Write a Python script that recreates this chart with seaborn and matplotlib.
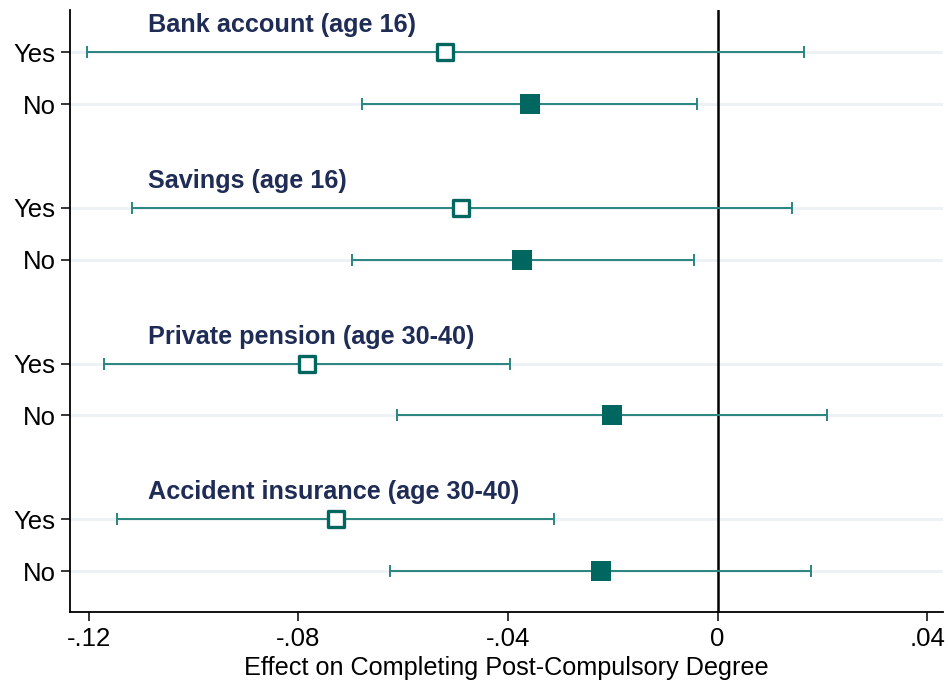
import matplotlib
matplotlib.use("Agg")
import matplotlib.pyplot as plt
import seaborn as sns
import pandas as pd

# Financial-literacy outcome groups and their subgroup rows
groups = ["Bank account (age 16)", "Savings (age 16)",
          "Private pension (age 30-40)", "Accident insurance (age 30-40)"]
subgroups = ["Yes", "No"]

# Point estimates and 95% confidence bounds (Yes, No per group)
estimate = [-0.0520, -0.0359, -0.0489, -0.0373, -0.0784, -0.0201, -0.0729, -0.0223]
ci_low = [-0.1204, -0.0679, -0.1118, -0.0698, -0.1172, -0.0612, -0.1147, -0.0625]
ci_high = [0.0165, -0.0039, 0.0141, -0.0046, -0.0396, 0.0209, -0.0312, 0.0178]

x_ticks = [-0.12, -0.08, -0.04, 0, 0.04]
x_tick_labels = ["-.12", "-.08", "-.04", "0", ".04"]

# Row layout: each group takes three rows (label row, Yes, No)
rows = []
for gi, g in enumerate(groups):
    for si, s in enumerate(subgroups):
        rows.append({"group": g, "sub": s, "row": gi * 3 + 1 + si})
df = pd.DataFrame(rows)
df["est"] = estimate
df["lo"] = ci_low
df["hi"] = ci_high

teal = "#006660"
line_teal = "#2a8580"
navy = "#1f2c55"

sns.set_theme(style="white")
plt.rcParams["font.family"] = ["Liberation Sans", "DejaVu Sans"]

fig = plt.figure(figsize=(9.48, 6.82), dpi=100)
ax = fig.add_axes([70 / 948, 1 - 612 / 682, (943 - 70) / 948, (612 - 10) / 682])

# light row guides
for r in df["row"]:
    ax.axhline(r, color="#ebf1f5", lw=2.0, zorder=0)

# reference line at zero effect
ax.axvline(0, color="black", lw=1.8, zorder=1)

# confidence intervals with caps
ax.errorbar(df["est"], df["row"],
            xerr=[df["est"] - df["lo"], df["hi"] - df["est"]],
            fmt="none", ecolor=line_teal, elinewidth=1.4,
            capsize=4, capthick=1.4, zorder=2)

yes = df[df["sub"] == "Yes"]
no = df[df["sub"] == "No"]
sns.scatterplot(data=yes, x="est", y="row", marker="s", s=140,
                facecolor="white", edgecolor=teal, linewidth=2.4,
                ax=ax, zorder=3, legend=False)
sns.scatterplot(data=no, x="est", y="row", marker="s", s=225,
                color=teal, edgecolor=teal, linewidth=0,
                ax=ax, zorder=3, legend=False)

# group headings just above each Yes row
for g, r in zip(groups, yes["row"]):
    ax.text(-0.1087, r - 0.385, g, ha="left", va="baseline",
            fontsize=18.2, fontweight="bold", color=navy)

ax.set_xlim(-0.1236, 0.0430)
ax.set_ylim(11.79, 0.185)
ax.set_yticks(df["row"])
ax.set_yticklabels(df["sub"])
ax.set_xticks(x_ticks)
ax.set_xticklabels(x_tick_labels)
ax.set_xlabel("Effect on Completing Post-Compulsory Degree", fontsize=18.2,
              labelpad=4, color="black")
ax.set_ylabel("")

for side in ["top", "right"]:
    ax.spines[side].set_visible(False)
for side in ["left", "bottom"]:
    ax.spines[side].set_color("black")
    ax.spines[side].set_linewidth(1.3)

ax.tick_params(axis="both", which="major", direction="out", length=6.5,
               width=1.1, color="black", labelsize=18.5, labelcolor="black",
               bottom=True, left=True)
ax.tick_params(axis="y", pad=4)
ax.tick_params(axis="x", pad=4)

fig.savefig("out.png", dpi=100, facecolor="white")
